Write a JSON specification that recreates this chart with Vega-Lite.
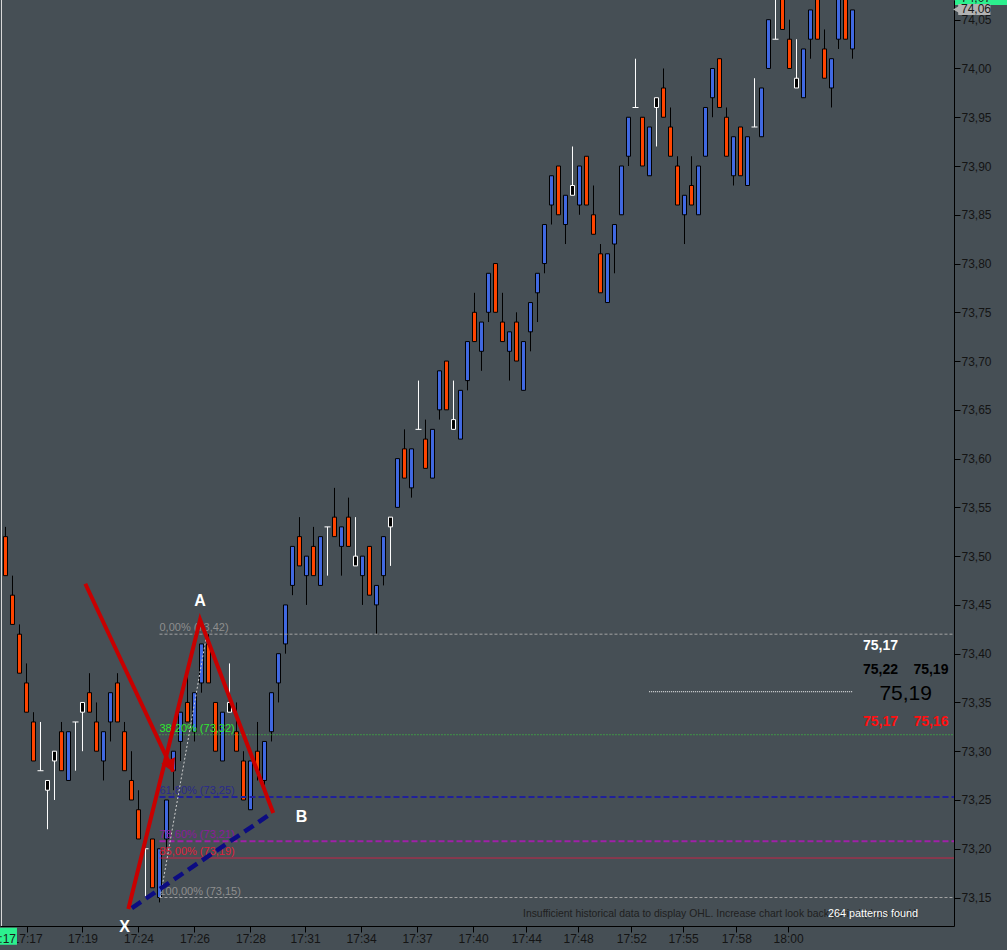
{
  "$schema": "https://vega.github.io/schema/vega-lite/v6.json",
  "width": 954,
  "height": 926,
  "autosize": {"type": "none"},
  "padding": {"left": 0, "top": 0, "right": 53, "bottom": 24},
  "background": "#464f55",
  "config": {
    "view": {"stroke": null},
    "axis": {"grid": false, "titleOpacity": 0},
    "text": {"font": "Liberation Sans"}
  },
  "datasets": {
    "bars": [
      {"i":0,"o":73.52,"h":73.53,"l":73.48,"c":73.48,"k":"down"},
      {"i":1,"o":73.46,"h":73.48,"l":73.43,"c":73.43,"k":"down"},
      {"i":2,"o":73.42,"h":73.43,"l":73.38,"c":73.38,"k":"down"},
      {"i":3,"o":73.37,"h":73.39,"l":73.34,"c":73.34,"k":"down"},
      {"i":4,"o":73.33,"h":73.34,"l":73.29,"c":73.29,"k":"down"},
      {"i":5,"o":73.28,"h":73.33,"l":73.28,"c":73.28,"k":"flat"},
      {"i":6,"o":73.26,"h":73.27,"l":73.22,"c":73.27,"k":"doji"},
      {"i":7,"o":73.29,"h":73.30,"l":73.25,"c":73.30,"k":"doji"},
      {"i":8,"o":73.32,"h":73.33,"l":73.28,"c":73.28,"k":"down"},
      {"i":9,"o":73.27,"h":73.32,"l":73.27,"c":73.32,"k":"up"},
      {"i":10,"o":73.33,"h":73.33,"l":73.28,"c":73.33,"k":"flat"},
      {"i":11,"o":73.34,"h":73.35,"l":73.30,"c":73.35,"k":"doji"},
      {"i":12,"o":73.36,"h":73.38,"l":73.34,"c":73.34,"k":"down"},
      {"i":13,"o":73.33,"h":73.35,"l":73.30,"c":73.30,"k":"down"},
      {"i":14,"o":73.29,"h":73.32,"l":73.27,"c":73.32,"k":"up"},
      {"i":15,"o":73.33,"h":73.36,"l":73.31,"c":73.36,"k":"up"},
      {"i":16,"o":73.37,"h":73.38,"l":73.33,"c":73.33,"k":"down"},
      {"i":17,"o":73.32,"h":73.33,"l":73.28,"c":73.28,"k":"down"},
      {"i":18,"o":73.27,"h":73.30,"l":73.25,"c":73.25,"k":"down"},
      {"i":19,"o":73.24,"h":73.26,"l":73.21,"c":73.21,"k":"down"},
      {"i":20,"o":73.20,"h":73.20,"l":73.15,"c":73.20,"k":"flat"},
      {"i":21,"o":73.21,"h":73.21,"l":73.16,"c":73.16,"k":"down"},
      {"i":22,"o":73.15,"h":73.20,"l":73.145,"c":73.20,"k":"up"},
      {"i":23,"o":73.21,"h":73.25,"l":73.20,"c":73.25,"k":"up"},
      {"i":24,"o":73.28,"h":73.30,"l":73.26,"c":73.30,"k":"up"},
      {"i":25,"o":73.31,"h":73.34,"l":73.29,"c":73.34,"k":"up"},
      {"i":26,"o":73.35,"h":73.38,"l":73.33,"c":73.33,"k":"down"},
      {"i":27,"o":73.32,"h":73.36,"l":73.31,"c":73.36,"k":"up"},
      {"i":28,"o":73.37,"h":73.41,"l":73.36,"c":73.41,"k":"up"},
      {"i":29,"o":73.41,"h":73.42,"l":73.37,"c":73.37,"k":"down"},
      {"i":30,"o":73.35,"h":73.35,"l":73.30,"c":73.30,"k":"down"},
      {"i":31,"o":73.29,"h":73.34,"l":73.29,"c":73.34,"k":"up"},
      {"i":32,"o":73.34,"h":73.39,"l":73.34,"c":73.35,"k":"doji"},
      {"i":33,"o":73.32,"h":73.35,"l":73.30,"c":73.30,"k":"down"},
      {"i":34,"o":73.29,"h":73.30,"l":73.25,"c":73.25,"k":"down"},
      {"i":35,"o":73.24,"h":73.29,"l":73.24,"c":73.29,"k":"up"},
      {"i":36,"o":73.30,"h":73.33,"l":73.27,"c":73.28,"k":"down"},
      {"i":37,"o":73.27,"h":73.31,"l":73.265,"c":73.31,"k":"up"},
      {"i":38,"o":73.32,"h":73.36,"l":73.31,"c":73.36,"k":"up"},
      {"i":39,"o":73.37,"h":73.40,"l":73.35,"c":73.40,"k":"up"},
      {"i":40,"o":73.41,"h":73.45,"l":73.40,"c":73.45,"k":"up"},
      {"i":41,"o":73.47,"h":73.51,"l":73.46,"c":73.51,"k":"up"},
      {"i":42,"o":73.52,"h":73.54,"l":73.49,"c":73.49,"k":"down"},
      {"i":43,"o":73.48,"h":73.50,"l":73.45,"c":73.50,"k":"up"},
      {"i":44,"o":73.51,"h":73.53,"l":73.48,"c":73.48,"k":"down"},
      {"i":45,"o":73.47,"h":73.52,"l":73.47,"c":73.52,"k":"up"},
      {"i":46,"o":73.53,"h":73.53,"l":73.48,"c":73.53,"k":"flat"},
      {"i":47,"o":73.54,"h":73.57,"l":73.52,"c":73.52,"k":"down"},
      {"i":48,"o":73.51,"h":73.53,"l":73.48,"c":73.53,"k":"up"},
      {"i":49,"o":73.54,"h":73.56,"l":73.51,"c":73.51,"k":"down"},
      {"i":50,"o":73.49,"h":73.54,"l":73.49,"c":73.50,"k":"doji"},
      {"i":51,"o":73.48,"h":73.50,"l":73.45,"c":73.50,"k":"up"},
      {"i":52,"o":73.51,"h":73.51,"l":73.46,"c":73.46,"k":"down"},
      {"i":53,"o":73.45,"h":73.47,"l":73.42,"c":73.47,"k":"up"},
      {"i":54,"o":73.48,"h":73.52,"l":73.47,"c":73.52,"k":"up"},
      {"i":55,"o":73.53,"h":73.54,"l":73.49,"c":73.54,"k":"doji"},
      {"i":56,"o":73.55,"h":73.60,"l":73.55,"c":73.60,"k":"up"},
      {"i":57,"o":73.61,"h":73.63,"l":73.58,"c":73.58,"k":"down"},
      {"i":58,"o":73.57,"h":73.61,"l":73.56,"c":73.61,"k":"up"},
      {"i":59,"o":73.63,"h":73.68,"l":73.63,"c":73.63,"k":"flat"},
      {"i":60,"o":73.62,"h":73.64,"l":73.59,"c":73.59,"k":"down"},
      {"i":61,"o":73.58,"h":73.63,"l":73.58,"c":73.63,"k":"up"},
      {"i":62,"o":73.65,"h":73.69,"l":73.64,"c":73.69,"k":"up"},
      {"i":63,"o":73.70,"h":73.70,"l":73.65,"c":73.65,"k":"down"},
      {"i":64,"o":73.63,"h":73.68,"l":73.63,"c":73.64,"k":"doji"},
      {"i":65,"o":73.62,"h":73.67,"l":73.62,"c":73.67,"k":"up"},
      {"i":66,"o":73.68,"h":73.72,"l":73.67,"c":73.72,"k":"up"},
      {"i":67,"o":73.75,"h":73.77,"l":73.72,"c":73.72,"k":"down"},
      {"i":68,"o":73.71,"h":73.74,"l":73.69,"c":73.74,"k":"up"},
      {"i":69,"o":73.75,"h":73.79,"l":73.74,"c":73.79,"k":"up"},
      {"i":70,"o":73.80,"h":73.80,"l":73.75,"c":73.75,"k":"down"},
      {"i":71,"o":73.74,"h":73.77,"l":73.72,"c":73.72,"k":"down"},
      {"i":72,"o":73.71,"h":73.73,"l":73.68,"c":73.73,"k":"up"},
      {"i":73,"o":73.74,"h":73.75,"l":73.70,"c":73.70,"k":"down"},
      {"i":74,"o":73.67,"h":73.72,"l":73.67,"c":73.72,"k":"up"},
      {"i":75,"o":73.73,"h":73.76,"l":73.71,"c":73.76,"k":"up"},
      {"i":76,"o":73.77,"h":73.79,"l":73.74,"c":73.79,"k":"up"},
      {"i":77,"o":73.80,"h":73.84,"l":73.79,"c":73.84,"k":"up"},
      {"i":78,"o":73.86,"h":73.89,"l":73.84,"c":73.89,"k":"up"},
      {"i":79,"o":73.90,"h":73.90,"l":73.85,"c":73.85,"k":"down"},
      {"i":80,"o":73.84,"h":73.87,"l":73.82,"c":73.87,"k":"up"},
      {"i":81,"o":73.87,"h":73.92,"l":73.87,"c":73.88,"k":"doji"},
      {"i":82,"o":73.86,"h":73.90,"l":73.85,"c":73.90,"k":"up"},
      {"i":83,"o":73.91,"h":73.91,"l":73.86,"c":73.86,"k":"down"},
      {"i":84,"o":73.85,"h":73.88,"l":73.83,"c":73.83,"k":"down"},
      {"i":85,"o":73.81,"h":73.82,"l":73.77,"c":73.77,"k":"down"},
      {"i":86,"o":73.76,"h":73.81,"l":73.76,"c":73.81,"k":"up"},
      {"i":87,"o":73.82,"h":73.84,"l":73.79,"c":73.84,"k":"up"},
      {"i":88,"o":73.85,"h":73.90,"l":73.85,"c":73.90,"k":"up"},
      {"i":89,"o":73.91,"h":73.95,"l":73.90,"c":73.95,"k":"up"},
      {"i":90,"o":73.96,"h":74.01,"l":73.96,"c":73.96,"k":"flat"},
      {"i":91,"o":73.95,"h":73.95,"l":73.90,"c":73.90,"k":"down"},
      {"i":92,"o":73.89,"h":73.94,"l":73.89,"c":73.94,"k":"up"},
      {"i":93,"o":73.96,"h":73.97,"l":73.92,"c":73.97,"k":"doji"},
      {"i":94,"o":73.98,"h":74.00,"l":73.95,"c":73.95,"k":"down"},
      {"i":95,"o":73.94,"h":73.96,"l":73.91,"c":73.91,"k":"down"},
      {"i":96,"o":73.90,"h":73.91,"l":73.86,"c":73.86,"k":"down"},
      {"i":97,"o":73.85,"h":73.87,"l":73.82,"c":73.87,"k":"up"},
      {"i":98,"o":73.88,"h":73.91,"l":73.86,"c":73.86,"k":"down"},
      {"i":99,"o":73.85,"h":73.90,"l":73.85,"c":73.90,"k":"up"},
      {"i":100,"o":73.91,"h":73.96,"l":73.91,"c":73.96,"k":"up"},
      {"i":101,"o":73.97,"h":74.00,"l":73.95,"c":74.00,"k":"up"},
      {"i":102,"o":74.01,"h":74.01,"l":73.96,"c":73.96,"k":"down"},
      {"i":103,"o":73.95,"h":73.96,"l":73.91,"c":73.91,"k":"down"},
      {"i":104,"o":73.89,"h":73.93,"l":73.88,"c":73.93,"k":"up"},
      {"i":105,"o":73.94,"h":73.94,"l":73.89,"c":73.89,"k":"down"},
      {"i":106,"o":73.88,"h":73.93,"l":73.88,"c":73.93,"k":"up"},
      {"i":107,"o":73.94,"h":73.99,"l":73.94,"c":73.94,"k":"flat"},
      {"i":108,"o":73.93,"h":73.98,"l":73.93,"c":73.98,"k":"up"},
      {"i":109,"o":74.00,"h":74.05,"l":74.00,"c":74.05,"k":"up"},
      {"i":110,"o":74.03,"h":74.08,"l":74.03,"c":74.03,"k":"flat"},
      {"i":111,"o":74.08,"h":74.09,"l":74.04,"c":74.04,"k":"down"},
      {"i":112,"o":74.03,"h":74.05,"l":74.00,"c":74.00,"k":"down"},
      {"i":113,"o":73.98,"h":74.03,"l":73.98,"c":73.99,"k":"doji"},
      {"i":114,"o":73.97,"h":74.02,"l":73.97,"c":74.02,"k":"up"},
      {"i":115,"o":74.03,"h":74.06,"l":74.01,"c":74.06,"k":"up"},
      {"i":116,"o":74.08,"h":74.09,"l":74.03,"c":74.03,"k":"down"},
      {"i":117,"o":74.02,"h":74.04,"l":73.99,"c":73.99,"k":"down"},
      {"i":118,"o":73.98,"h":74.01,"l":73.96,"c":74.01,"k":"up"},
      {"i":119,"o":74.03,"h":74.09,"l":74.02,"c":74.08,"k":"up"},
      {"i":120,"o":74.08,"h":74.09,"l":74.03,"c":74.03,"k":"down"},
      {"i":121,"o":74.02,"h":74.06,"l":74.01,"c":74.06,"k":"up"}
    ],
    "fib": [
      {"lv":"0","p":73.42,"t":"0,00% (73,42)","x0":22.0},
      {"lv":"38","p":73.3169,"t":"38,20% (73,32)","x0":22.0},
      {"lv":"62","p":73.2531,"t":"61,80% (73,25)","x0":22.0},
      {"lv":"79","p":73.2078,"t":"78,60% (73,21)","x0":22.0},
      {"lv":"85","p":73.1905,"t":"85,00% (73,19)","x0":22.0},
      {"lv":"100","p":73.15,"t":"100,00% (73,15)","x0":22.0}
    ],
    "pattern": [
      {"seg":"xab","ord":0,"i":17.55,"p":73.1382},
      {"seg":"xab","ord":1,"i":27.8,"p":73.4348},
      {"seg":"xab","ord":2,"i":38.25,"p":73.2366},
      {"seg":"arr","ord":0,"i":11.4,"p":73.4717},
      {"seg":"arr","ord":1,"i":23.95,"p":73.2793},
      {"seg":"xb","ord":0,"i":18.05,"p":73.1392},
      {"seg":"xb","ord":1,"i":38.05,"p":73.2366},
      {"seg":"fibl","ord":0,"i":22.1,"p":73.15},
      {"seg":"fibl","ord":1,"i":28.75,"p":73.42}
    ],
    "letters": [
      {"t":"A","i":27.8,"p":73.4536},
      {"t":"X","i":17.0,"p":73.1193},
      {"t":"B","i":42.3,"p":73.2325}
    ],
    "quotes": [
      {"t":"75,17","i":125.0,"p":73.4082,"g":"w"},
      {"t":"75,22","i":125.0,"p":73.3829,"g":"k"},
      {"t":"75,19","i":132.2,"p":73.3829,"g":"k"},
      {"t":"75,17","i":125.0,"p":73.3299,"g":"r"},
      {"t":"75,16","i":132.2,"p":73.3299,"g":"r"}
    ]
  },
  "resolve": {"scale": {"color": "independent", "fill": "independent", "stroke": "independent", "strokeDash": "independent"}},
  "layer": [
    {
      "data": {"name": "bars"},
      "mark": {"type": "rule", "strokeWidth": 1, "clip": true},
      "encoding": {
        "x": {
          "field": "i", "type": "quantitative",
          "scale": {"domain": [-0.7857, 135.5], "nice": false, "zero": false, "padding": 0},
          "axis": {
            "orient": "bottom", "title": null,
            "values": [3.1, 11, 19, 27, 35, 42.8, 50.8, 58.8, 66.8, 74.4, 81.8, 89.4, 96.8, 104.4, 111.8],
            "labelExpr": "datum.value < 7 ? '17:17' : datum.value < 15 ? '17:19' : datum.value < 23 ? '17:24' : datum.value < 31 ? '17:26' : datum.value < 39 ? '17:28' : datum.value < 47 ? '17:31' : datum.value < 55 ? '17:34' : datum.value < 63 ? '17:37' : datum.value < 70 ? '17:40' : datum.value < 78 ? '17:44' : datum.value < 85 ? '17:48' : datum.value < 93 ? '17:52' : datum.value < 100 ? '17:55' : datum.value < 108 ? '17:58' : '18:00'",
            "domainColor": "#000000", "tickColor": "#000000", "tickSize": 6,
            "labelColor": "#141414", "labelFont": "Liberation Sans", "labelFontSize": 12,
            "labelPadding": 1, "labelFlush": false, "labelOverlap": false
          }
        },
        "y": {
          "field": "l", "type": "quantitative",
          "scale": {"domain": [73.1208, 74.0702], "nice": false, "zero": false, "padding": 0},
          "axis": {
            "orient": "right", "title": null,
            "values": [73.15, 73.2, 73.25, 73.3, 73.35, 73.4, 73.45, 73.5, 73.55, 73.6, 73.65, 73.7, 73.75, 73.8, 73.85, 73.9, 73.95, 74.0, 74.05],
            "labelExpr": "replace(format(datum.value, '.2f'), '.', ',')",
            "domainColor": "#000000", "tickColor": "#000000", "tickSize": 6,
            "labelColor": "#141414", "labelFont": "Liberation Sans", "labelFontSize": 12,
            "labelPadding": 1, "labelFlush": false, "labelOverlap": false
          }
        },
        "y2": {"field": "h"},
        "color": {
          "field": "k", "type": "nominal",
          "scale": {"domain": ["up", "down", "doji", "flat"], "range": ["#000000", "#000000", "#ffffff", "#ffffff"]},
          "legend": null
        }
      }
    },
    {
      "data": {"name": "bars"},
      "transform": [{"filter": "datum.k != 'flat'"}],
      "mark": {"type": "bar", "width": 4, "strokeWidth": 1, "clip": true},
      "encoding": {
        "x": {"field": "i", "type": "quantitative"},
        "y": {"field": "o", "type": "quantitative"},
        "y2": {"field": "c"},
        "fill": {
          "field": "k", "type": "nominal",
          "scale": {"domain": ["up", "down", "doji"], "range": ["#4169e1", "#ff4500", "#000000"]},
          "legend": null
        },
        "stroke": {
          "field": "k", "type": "nominal",
          "scale": {"domain": ["up", "down", "doji"], "range": ["#000000", "#000000", "#ffffff"]},
          "legend": null
        }
      }
    },
    {
      "data": {"name": "bars"},
      "transform": [{"filter": "datum.k == 'flat'"}],
      "mark": {"type": "tick", "orient": "horizontal", "size": 6, "thickness": 1, "color": "#ffffff", "opacity": 1, "clip": true},
      "encoding": {
        "x": {"field": "i", "type": "quantitative"},
        "y": {"field": "o", "type": "quantitative"}
      }
    },
    {
      "data": {"name": "fib"},
      "transform": [{"filter": "datum.lv != '62' && datum.lv != '79'"}],
      "mark": {"type": "rule", "strokeWidth": 1},
      "encoding": {
        "x": {"field": "x0", "type": "quantitative"},
        "x2": {"datum": 135.5},
        "y": {"field": "p", "type": "quantitative"},
        "color": {
          "field": "lv", "type": "nominal",
          "scale": {"domain": ["0", "38", "85", "100"], "range": ["#a4a4a4", "#3ad83a", "#d81e46", "#a4a4a4"]},
          "legend": null
        },
        "strokeDash": {
          "field": "lv", "type": "nominal",
          "scale": {"domain": ["0", "38", "85", "100"], "range": [[3, 2], [1, 2], [1, 0], [3, 2]]},
          "legend": null
        }
      }
    },
    {
      "data": {"name": "fib"},
      "transform": [{"filter": "datum.lv == '62' || datum.lv == '79'"}],
      "mark": {"type": "rule", "strokeWidth": 2, "strokeDash": [6, 3]},
      "encoding": {
        "x": {"field": "x0", "type": "quantitative"},
        "x2": {"datum": 135.5},
        "y": {"field": "p", "type": "quantitative"},
        "color": {
          "field": "lv", "type": "nominal",
          "scale": {"domain": ["62", "79"], "range": ["#20209a", "#a020a8"]},
          "legend": null
        }
      }
    },
    {
      "data": {"name": "fib"},
      "mark": {"type": "text", "align": "left", "baseline": "middle", "dy": -6, "fontSize": 11, "font": "Liberation Sans"},
      "encoding": {
        "x": {"field": "x0", "type": "quantitative"},
        "y": {"field": "p", "type": "quantitative"},
        "text": {"field": "t"},
        "color": {
          "field": "lv", "type": "nominal",
          "scale": {"domain": ["0", "38", "62", "79", "85", "100"], "range": ["#8e8e8e", "#2ee82e", "#2a2a8c", "#8a1c9c", "#e0203c", "#8e8e8e"]},
          "legend": null
        }
      }
    },
    {
      "data": {"name": "pattern"},
      "transform": [{"filter": "datum.seg == 'fibl'"}],
      "mark": {"type": "line", "stroke": "#cfcfcf", "strokeWidth": 1, "strokeDash": [2, 2]},
      "encoding": {
        "x": {"field": "i", "type": "quantitative"},
        "y": {"field": "p", "type": "quantitative"},
        "order": {"field": "ord"}
      }
    },
    {
      "data": {"name": "pattern"},
      "transform": [{"filter": "datum.seg == 'xab' || datum.seg == 'arr'"}],
      "mark": {"type": "line", "stroke": "#c80000", "strokeWidth": 4, "strokeJoin": "miter"},
      "encoding": {
        "x": {"field": "i", "type": "quantitative"},
        "y": {"field": "p", "type": "quantitative"},
        "detail": {"field": "seg"},
        "order": {"field": "ord"}
      }
    },
    {
      "data": {"values": [{"i": 23.5, "p": 73.2865}]},
      "mark": {"type": "point", "shape": "triangle", "filled": true, "color": "#c80000", "opacity": 1, "size": 230, "angle": 155},
      "encoding": {
        "x": {"field": "i", "type": "quantitative"},
        "y": {"field": "p", "type": "quantitative"}
      }
    },
    {
      "data": {"name": "pattern"},
      "transform": [{"filter": "datum.seg == 'xb'"}],
      "mark": {"type": "line", "stroke": "#0c0c82", "strokeWidth": 4.5, "strokeDash": [11, 6]},
      "encoding": {
        "x": {"field": "i", "type": "quantitative"},
        "y": {"field": "p", "type": "quantitative"},
        "order": {"field": "ord"}
      }
    },
    {
      "data": {"name": "letters"},
      "mark": {"type": "text", "align": "center", "baseline": "middle", "fontSize": 16, "fontWeight": "bold", "color": "#ffffff", "font": "Liberation Sans"},
      "encoding": {
        "x": {"field": "i", "type": "quantitative"},
        "y": {"field": "p", "type": "quantitative"},
        "text": {"field": "t"}
      }
    },
    {
      "data": {"values": [{"i0": 91.95, "i1": 120.95, "p": 73.361}]},
      "mark": {"type": "rule", "stroke": "#ffffff", "strokeWidth": 1, "strokeDash": [1, 1]},
      "encoding": {
        "x": {"field": "i0", "type": "quantitative"},
        "x2": {"field": "i1"},
        "y": {"field": "p", "type": "quantitative"}
      }
    },
    {
      "data": {"name": "quotes"},
      "mark": {"type": "text", "align": "center", "baseline": "middle", "fontSize": 14, "fontWeight": "bold", "font": "Liberation Sans"},
      "encoding": {
        "x": {"field": "i", "type": "quantitative"},
        "y": {"field": "p", "type": "quantitative"},
        "text": {"field": "t"},
        "color": {
          "field": "g", "type": "nominal",
          "scale": {"domain": ["w", "k", "r"], "range": ["#ffffff", "#000000", "#ff1010"]},
          "legend": null
        }
      }
    },
    {
      "data": {"values": [{"t": "75,19", "i": 128.6, "p": 73.359}]},
      "mark": {"type": "text", "align": "center", "baseline": "middle", "fontSize": 21, "color": "#000000", "font": "Liberation Sans"},
      "encoding": {
        "x": {"field": "i", "type": "quantitative"},
        "y": {"field": "p", "type": "quantitative"},
        "text": {"field": "t"}
      }
    },
    {
      "data": {"values": [{"t": "Insufficient historical data to display OHL. Increase chart look back period (days back)", "i": 73.93, "p": 73.1331}]},
      "mark": {"type": "text", "align": "left", "baseline": "middle", "fontSize": 10.4, "color": "#202020", "font": "Liberation Sans"},
      "encoding": {
        "x": {"field": "i", "type": "quantitative"},
        "y": {"field": "p", "type": "quantitative"},
        "text": {"field": "t"}
      }
    },
    {
      "data": {"values": [{"t": "264 patterns found", "i": 130.36, "p": 73.1331}]},
      "mark": {"type": "text", "align": "right", "baseline": "middle", "fontSize": 10.8, "color": "#ffffff", "font": "Liberation Sans"},
      "encoding": {
        "x": {"field": "i", "type": "quantitative"},
        "y": {"field": "p", "type": "quantitative"},
        "text": {"field": "t"}
      }
    },
    {
      "data": {"values": [{"i": -0.57}]},
      "mark": {"type": "rule", "stroke": "#d8d8d8", "strokeWidth": 1},
      "encoding": {
        "x": {"field": "i", "type": "quantitative"}
      }
    },
    {
      "data": {"values": [
        {"i0": -0.79, "i1": 1.64, "p0": 73.1016, "p1": 73.119, "box": "time"},
        {"i0": 135.65, "i1": 143.3, "p0": 74.0652, "p1": 74.09, "box": "last"},
        {"i0": 136.1, "i1": 140.7, "p0": 74.0548, "p1": 74.0661, "box": "bid"}
      ]},
      "mark": {"type": "rect"},
      "encoding": {
        "x": {"field": "i0", "type": "quantitative"},
        "x2": {"field": "i1"},
        "y": {"field": "p0", "type": "quantitative"},
        "y2": {"field": "p1"},
        "fill": {
          "field": "box", "type": "nominal",
          "scale": {"domain": ["time", "last", "bid"], "range": ["#2cf08e", "#2cf08e", "#b2b2b2"]},
          "legend": null
        }
      }
    },
    {
      "data": {"values": [{"i": 135.85, "p": 74.0605}]},
      "mark": {"type": "point", "shape": "triangle-left", "filled": true, "color": "#b2b2b2", "opacity": 1, "size": 60},
      "encoding": {
        "x": {"field": "i", "type": "quantitative"},
        "y": {"field": "p", "type": "quantitative"}
      }
    },
    {
      "data": {"values": [{"t": ":17", "i": 1.5, "p": 73.1078}]},
      "mark": {"type": "text", "align": "right", "baseline": "middle", "fontSize": 12, "color": "#1a1a1a", "font": "Liberation Sans"},
      "encoding": {
        "x": {"field": "i", "type": "quantitative"},
        "y": {"field": "p", "type": "quantitative"},
        "text": {"field": "t"}
      }
    },
    {
      "data": {"values": [
        {"t": "74,07", "i": 138.64, "p": 74.0722},
        {"t": "74,06", "i": 138.64, "p": 74.0605}
      ]},
      "mark": {"type": "text", "align": "center", "baseline": "middle", "fontSize": 12, "color": "#1a1a1a", "font": "Liberation Sans"},
      "encoding": {
        "x": {"field": "i", "type": "quantitative"},
        "y": {"field": "p", "type": "quantitative"},
        "text": {"field": "t"}
      }
    }
  ]
}
